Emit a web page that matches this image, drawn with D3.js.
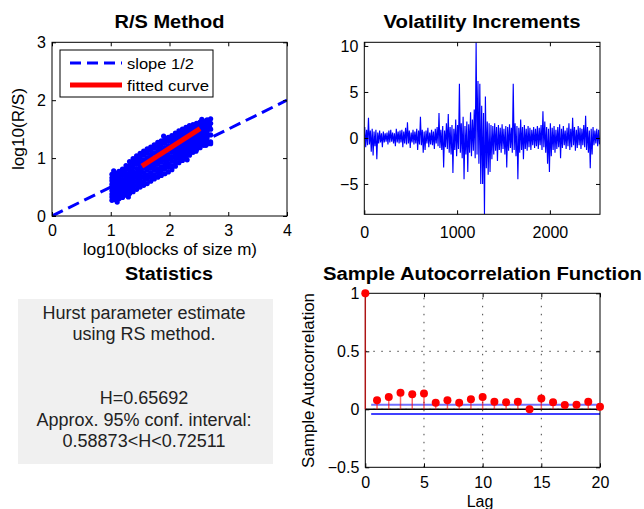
<!DOCTYPE html>
<html><head><meta charset="utf-8">
<script src="https://cdn.jsdelivr.net/npm/d3@7"></script>
<style>body{margin:0;background:#fff;}svg{display:block;}</style>
</head><body>
<script>
// ---------- DATA ----------
const rsXTicks = [0, 1, 2, 3, 4];
const rsYTicks = [0, 1, 2, 3];
// log10(block size m) columns and the log10(R/S) values read in each column
const rsLogM = [1.02,1.08,1.14,1.20,1.26,1.32,1.38,1.44,1.50,1.56,1.62,1.68,1.74,1.80,1.86,1.92,1.98,2.04,2.10,2.16,2.22,2.28,2.34,2.40,2.46,2.52,2.58,2.64,2.70];
const rsLogRS = [
  [0.27,0.33,0.38,0.44,0.50,0.55,0.61,0.66,0.72],
  [0.28,0.34,0.40,0.45,0.51,0.57,0.62,0.68,0.74],
  [0.30,0.36,0.42,0.48,0.54,0.60,0.66,0.72,0.77],
  [0.32,0.38,0.45,0.51,0.57,0.63,0.70,0.76,0.81],
  [0.36,0.42,0.49,0.55,0.61,0.68,0.74,0.81,0.87],
  [0.39,0.46,0.52,0.59,0.66,0.73,0.80,0.87,0.94],
  [0.42,0.49,0.56,0.63,0.70,0.77,0.85,0.92,0.99],
  [0.46,0.53,0.60,0.67,0.74,0.82,0.90,0.97,1.04],
  [0.50,0.57,0.64,0.71,0.79,0.86,0.94,1.01,1.08],
  [0.53,0.60,0.68,0.75,0.83,0.90,0.97,1.05,1.12],
  [0.56,0.64,0.71,0.79,0.86,0.94,1.01,1.09,1.16],
  [0.60,0.68,0.75,0.83,0.90,0.98,1.05,1.13,1.19],
  [0.64,0.71,0.79,0.86,0.94,1.01,1.09,1.17,1.23],
  [0.67,0.75,0.82,0.90,0.97,1.05,1.12,1.20,1.27],
  [0.70,0.78,0.85,0.93,1.00,1.08,1.15,1.23,1.30],
  [0.73,0.81,0.88,0.96,1.03,1.11,1.18,1.26,1.33],
  [0.76,0.84,0.91,0.99,1.06,1.14,1.21,1.29,1.36],
  [0.80,0.87,0.95,1.02,1.10,1.17,1.24,1.32,1.39],
  [0.86,0.93,1.00,1.07,1.14,1.21,1.29,1.36,1.43],
  [0.92,0.99,1.05,1.12,1.19,1.26,1.33,1.40,1.47],
  [0.96,1.03,1.09,1.16,1.23,1.30,1.37,1.43,1.50],
  [1.00,1.07,1.13,1.20,1.26,1.33,1.40,1.46,1.53],
  [1.05,1.11,1.17,1.24,1.30,1.37,1.43,1.50,1.56],
  [1.10,1.16,1.22,1.28,1.34,1.40,1.46,1.52,1.58],
  [1.15,1.21,1.26,1.32,1.38,1.43,1.49,1.55,1.60],
  [1.18,1.24,1.30,1.35,1.41,1.46,1.51,1.57,1.62],
  [1.22,1.28,1.33,1.38,1.43,1.49,1.54,1.59,1.64],
  [1.25,1.30,1.35,1.41,1.46,1.51,1.56,1.61,1.66],
  [1.28,1.40,1.50,1.60,1.68]
];
const rsOutX = [1.05, 1.11, 1.30, 2.30, 2.55, 2.62, 2.66, 2.70, 2.68, 1.90, 2.45];
const rsOutY = [0.78, 0.24, 0.33, 0.97, 1.67, 1.22, 1.63, 1.25, 1.55, 1.38, 1.12];
const slopeX = [0, 4], slopeY = [0, 2];
const fitX = [1.53, 2.52], fitY = [0.86, 1.51];
const legendLabels = ["slope 1/2", "fitted curve"];

const volXTicks = [0, 1000, 2000];
const volYTicks = [-5, 0, 5, 10];
const volDomainX = [0, 2540], volDomainY = [-8.3, 10.4];
// per 20-sample block: highest and lowest increment
const volHi = [1.2,0.9,2.2,0.8,1.0,0.7,0.9,0.6,0.8,0.5, 0.7,0.5,0.6,0.8,0.9,0.6,0.5,1.0,0.7,0.8,
  0.9,0.7,1.1,1.7,0.8,0.6,0.9,0.7,1.0,0.8, 2.3,0.9,0.7,0.8,1.1,0.6,0.9,0.7,1.0,1.2,
  2.7,0.9,1.3,0.8,1.6,2.6,1.2,1.4,1.0,2.0, 1.4,5.9,1.6,2.3,1.3,1.8,1.5,2.8,2.0,3.1,
  10.4,6.2,5.9,3.5,2.7,4.5,1.8,1.6,1.4,1.3, 1.6,1.2,1.4,1.1,1.5,1.0,1.3,1.2,1.5,1.1,
  5.9,1.6,1.3,1.1,2.0,1.2,1.4,1.0,1.3,1.1, 0.9,1.2,1.0,1.3,1.1,1.4,2.9,1.8,1.2,1.0,
  1.6,1.1,1.3,0.9,1.2,1.5,1.0,1.3,0.8,1.1, 1.6,1.0,2.2,1.2,0.9,1.3,1.1,1.0,1.4,2.4,
  1.2,0.8,1.0,1.2,0.8,1.0,0.9];
const volLo = [-1.0,-0.8,-0.7,-1.5,-1.9,-0.9,-2.3,-0.6,-0.5,-1.0, -0.5,-0.4,-0.7,-0.5,-0.4,-0.6,-0.9,-0.5,-0.6,-0.5,
  -1.0,-0.6,-0.7,-0.6,-1.1,-0.5,-0.7,-0.6,-1.3,-0.7, -0.8,-1.6,-1.3,-0.6,-1.0,-0.7,-0.8,-1.2,-0.6,-0.9,
  -1.1,-1.3,-3.2,-1.0,-1.2,-1.6,-1.8,-3.8,-1.3,-2.0, -1.2,-1.6,-2.2,-4.5,-1.8,-3.7,-1.6,-2.0,-1.4,-2.2,
  -1.8,-2.8,-5.0,-5.0,-8.3,-3.3,-4.0,-3.7,-2.3,-1.8, -1.4,-2.5,-1.3,-1.6,-1.2,-1.8,-3.2,-1.4,-1.1,-1.6,
  -1.3,-2.0,-4.5,-1.6,-1.3,-2.3,-1.2,-1.4,-1.0,-1.3, -0.8,-1.1,-0.9,-1.2,-0.8,-1.3,-1.0,-1.6,-2.8,-3.7,
  -2.0,-1.3,-1.6,-1.2,-1.0,-2.2,-1.1,-0.8,-1.2,-0.9, -1.3,-1.0,-0.8,-1.4,-1.1,-0.8,-1.2,-0.8,-1.0,-1.3,
  -1.6,-3.3,-1.8,-0.8,-0.6,-0.9,-0.7];

const statsLines = ["Hurst parameter estimate", "using RS method.", "", "", "H=0.65692",
  "Approx. 95% conf. interval:", "0.58873<H<0.72511"];

const acfLags = [0,1,2,3,4,5,6,7,8,9,10,11,12,13,14,15,16,17,18,19,20];
const acfValues = [1,0.077,0.106,0.143,0.129,0.137,0.057,0.077,0.057,0.086,0.106,0.066,0.060,0.066,0.0,0.094,0.060,0.037,0.040,0.066,0.023];
const acfBounds = [0.04, -0.04];
const acfXTicks = [0, 5, 10, 15, 20];
const acfYTicks = [-0.5, 0, 0.5, 1];
const acfGridX = [5, 10, 15];
const acfGridY = [0, 0.5];

// ---------- DRAW ----------
const FONT = "'Liberation Sans', Arial, Helvetica, sans-serif";
const svg = d3.select("body").append("svg").attr("width", 644).attr("height", 509)
  .style("font-family", FONT);
svg.append("rect").attr("width", 644).attr("height", 509).attr("fill", "#fff");
const defs = svg.append("defs");
const fmt = d => String(d).replace("-", "\u2212");

function clip(x, y, clipId) {
  const [x0, x1] = x.range(), [y1, y0] = y.range();
  defs.append("clipPath").attr("id", clipId).append("rect")
    .attr("x", x0).attr("y", y0).attr("width", x1 - x0).attr("height", y1 - y0);
}
function axes(g, x, y, xt, yt, pad) {
  const [x0, x1] = x.range(), [y1, y0] = y.range();
  g.append("rect").attr("x", x0).attr("y", y0).attr("width", x1 - x0).attr("height", y1 - y0)
    .attr("fill", "none").attr("stroke", "#000").attr("stroke-width", 1);
  const style = sel => {
    sel.select(".domain").remove();
    sel.selectAll("line").attr("stroke", "#000");
    sel.selectAll("text").attr("font-size", 16).attr("font-family", FONT).attr("fill", "#000");
  };
  g.append("g").attr("transform", `translate(0,${y1})`)
    .call(d3.axisBottom(x).tickValues(xt).tickFormat(fmt).tickSize(-4).tickPadding(pad)).call(style);
  g.append("g").attr("transform", `translate(0,${y0})`)
    .call(d3.axisTop(x).tickValues(xt).tickFormat("").tickSize(-4)).call(style);
  g.append("g").attr("transform", `translate(${x0},0)`)
    .call(d3.axisLeft(y).tickValues(yt).tickFormat(fmt).tickSize(-4).tickPadding(6)).call(style);
  g.append("g").attr("transform", `translate(${x1},0)`)
    .call(d3.axisRight(y).tickValues(yt).tickFormat("").tickSize(-4)).call(style);
}
function label(txt, x, y, size, bold, len, rot) {
  const t = svg.append("text").text(txt).attr("text-anchor", "middle")
    .attr("font-size", size).attr("font-weight", bold ? "bold" : "normal").attr("fill", "#000");
  if (len) t.attr("textLength", len).attr("lengthAdjust", "spacingAndGlyphs");
  if (rot) t.attr("transform", `translate(${x},${y}) rotate(-90)`);
  else t.attr("x", x).attr("y", y);
  return t;
}

// ---- Panel 1: R/S Method ----
{
  const x = d3.scaleLinear().domain([0, 4]).range([52, 287]);
  const y = d3.scaleLinear().domain([0, 3]).range([216, 42.3]);
  clip(x, y, "c1");
  const g = svg.append("g");
  const pts = [];
  rsLogM.forEach((m, i) => rsLogRS[i].forEach(v => pts.push([m, v])));
  rsOutX.forEach((m, i) => pts.push([m, rsOutY[i]]));
  g.append("g").attr("clip-path", "url(#c1)").selectAll("circle").data(pts).enter().append("circle")
    .attr("cx", d => x(d[0])).attr("cy", d => y(d[1])).attr("r", 2.6).attr("fill", "#0000ff");
  const line = d3.line().x(d => x(d[0])).y(d => y(d[1]));
  g.append("path").attr("clip-path", "url(#c1)").attr("d", line(slopeX.map((v, i) => [v, slopeY[i]])))
    .attr("stroke", "#0000ff").attr("stroke-width", 3).attr("stroke-dasharray", "12,6").attr("fill", "none");
  g.append("path").attr("d", line(fitX.map((v, i) => [v, fitY[i]])))
    .attr("stroke", "#ff0000").attr("stroke-width", 5).attr("fill", "none");
  axes(g, x, y, rsXTicks, rsYTicks, 9);
  // legend
  const lg = svg.append("g");
  lg.append("rect").attr("x", 60).attr("y", 50).attr("width", 153).attr("height", 47)
    .attr("fill", "#fff").attr("stroke", "#000").attr("stroke-width", 1);
  lg.append("line").attr("x1", 70).attr("x2", 122).attr("y1", 63).attr("y2", 63)
    .attr("stroke", "#0000ff").attr("stroke-width", 3).attr("stroke-dasharray", "11,6");
  lg.append("line").attr("x1", 70).attr("x2", 122).attr("y1", 85).attr("y2", 85)
    .attr("stroke", "#ff0000").attr("stroke-width", 5);
  lg.append("text").text(legendLabels[0]).attr("x", 127).attr("y", 68.5).attr("font-size", 15)
    .attr("textLength", 67).attr("lengthAdjust", "spacingAndGlyphs");
  lg.append("text").text(legendLabels[1]).attr("x", 127).attr("y", 90.5).attr("font-size", 15)
    .attr("textLength", 82).attr("lengthAdjust", "spacingAndGlyphs");
  label("R/S Method", 169.5, 28, 18, true, 110);
  label("log10(blocks of size m)", 170, 255, 16, false, 174);
  label("log10(R/S)", 24, 129, 16, false, 82, true);
}

// ---- Panel 2: Volatility Increments ----
{
  const x = d3.scaleLinear().domain(volDomainX).range([364.3, 600]);
  const y = d3.scaleLinear().domain(volDomainY).range([214.3, 42.3]);
  clip(x, y, "c2");
  const g = svg.append("g");
  const pts = [];
  volHi.forEach((h, k) => { pts.push([k * 20 + 5, h]); pts.push([k * 20 + 15, volLo[k]]); });
  g.append("path").attr("clip-path", "url(#c2)")
    .attr("d", d3.line().x(d => x(d[0])).y(d => y(d[1]))(pts))
    .attr("stroke", "#0000ff").attr("stroke-width", 1.15).attr("fill", "none");
  axes(g, x, y, volXTicks, volYTicks, 12);
  label("Volatility Increments", 482, 28, 18, true, 197);
}

// ---- Panel 3: Statistics ----
{
  svg.append("rect").attr("x", 18).attr("y", 299).attr("width", 255).attr("height", 165).attr("fill", "#f0f0f0");
  statsLines.forEach((s, i) => {
    if (!s) return;
    svg.append("text").text(s).attr("x", 144).attr("y", 319 + i * 21.3).attr("text-anchor", "middle")
      .attr("font-size", 18).attr("fill", "#222");
  });
  label("Statistics", 169, 280, 18, true, 88);
}

// ---- Panel 4: ACF ----
{
  const x = d3.scaleLinear().domain([0, 20]).range([365.3, 600]);
  const y = d3.scaleLinear().domain([-0.5, 1]).range([467.3, 293.3]);
  clip(x, y, "c4");
  const g = svg.append("g");
  acfGridX.forEach(v => g.append("line").attr("x1", x(v)).attr("x2", x(v)).attr("y1", y(-0.5)).attr("y2", y(1))
    .attr("stroke", "#444").attr("stroke-width", 1).attr("stroke-dasharray", "1.5,6.5"));
  acfGridY.forEach(v => g.append("line").attr("x1", x(0)).attr("x2", x(20)).attr("y1", y(v)).attr("y2", y(v))
    .attr("stroke", "#444").attr("stroke-width", 1).attr("stroke-dasharray", "1.5,6.5"));
  g.append("line").attr("x1", x(0)).attr("x2", x(20)).attr("y1", y(0)).attr("y2", y(0))
    .attr("stroke", "#000").attr("stroke-width", 1.5);
  g.append("line").attr("x1", x(0.5)).attr("x2", x(20)).attr("y1", y(acfBounds[0])).attr("y2", y(acfBounds[0]))
    .attr("stroke", "#7070ff").attr("stroke-width", 2);
  g.append("line").attr("x1", x(0.5)).attr("x2", x(20)).attr("y1", y(acfBounds[1])).attr("y2", y(acfBounds[1]))
    .attr("stroke", "#0000ff").attr("stroke-width", 1.5);
  axes(g, x, y, acfXTicks, acfYTicks, 9);
  g.selectAll(".stem").data(acfLags).enter().append("line")
    .attr("x1", d => x(d)).attr("x2", d => x(d)).attr("y1", y(0)).attr("y2", (d, i) => y(acfValues[i]))
    .attr("stroke", "#ff0000").attr("stroke-opacity", 0.6).attr("stroke-width", 1.5);
  g.selectAll(".mk").data(acfLags).enter().append("circle")
    .attr("cx", d => x(d)).attr("cy", (d, i) => y(acfValues[i])).attr("r", 4).attr("fill", "#ff0000");
  label("Sample Autocorrelation Function", 482.5, 280, 18, true, 319);
  label("Sample Autocorrelation", 314, 380.5, 16, false, 175, true);
  label("Lag", 480, 507, 16, false, 0);
}
</script>
</body></html>
